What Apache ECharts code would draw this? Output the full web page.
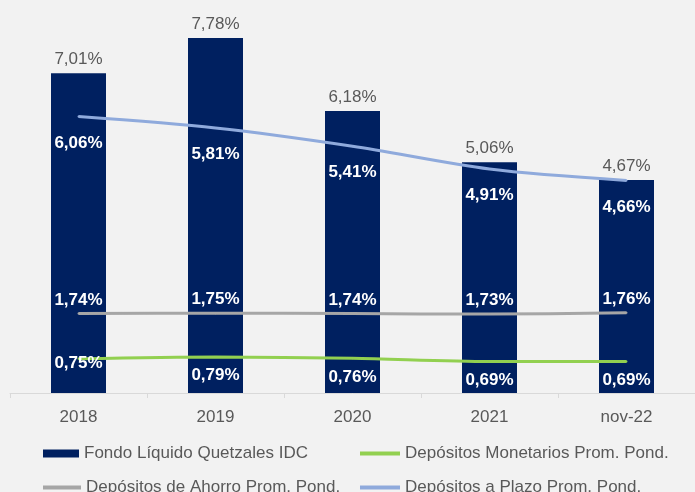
<!DOCTYPE html>
<html><head><meta charset="utf-8">
<script src="https://cdn.jsdelivr.net/npm/echarts@6/dist/echarts.min.js"></script>
<style>html,body{margin:0;padding:0;background:#f2f2f2;}#c{width:695px;height:492px;}</style>
</head><body><div id="c"></div>
<script>
const categories = ['2018', '2019', '2020', '2021', 'nov-22'];
const fondo = [7.01, 7.78, 6.18, 5.06, 4.67];
const monetarios = [0.75, 0.79, 0.76, 0.69, 0.69];
const ahorro = [1.74, 1.75, 1.74, 1.73, 1.76];
const plazo = [6.06, 5.81, 5.41, 4.91, 4.66];
const names = ['Fondo Líquido Quetzales IDC', 'Depósitos Monetarios Prom. Pond.', 'Depósitos de Ahorro Prom. Pond.', 'Depósitos a Plazo Prom. Pond.'];
const FONT = 'Liberation Sans, Arial, sans-serif';
const fmt = p => p.value.toFixed(2).replace('.', ',') + '%';
const whiteLabel = (pos, dist) => ({show: true, position: pos, distance: dist, color: '#ffffff', fontWeight: 'bold', fontSize: 17, fontFamily: FONT, formatter: fmt});
const chart = echarts.init(document.getElementById('c'));
const legendBase = {textStyle: {color: '#595959', fontSize: 17, fontFamily: FONT}, itemGap: 0, selectedMode: false, padding: 0};
chart.setOption({
  backgroundColor: '#f2f2f2',
  animation: false,
  grid: {left: 10, top: 28, width: 692, height: 365, containLabel: false},
  xAxis: {type: 'category', data: categories,
    axisLine: {lineStyle: {color: '#d9d9d9', width: 1}},
    axisTick: {show: true, length: 5, lineStyle: {color: '#d9d9d9'}},
    axisLabel: {color: '#595959', fontSize: 17, fontFamily: FONT, margin: 16}},
  yAxis: {type: 'value', min: 0, max: 8, show: false, splitLine: {show: false}},
  legend: [
    Object.assign({}, legendBase, {left: 43, top: 445, data: [{name: names[0], icon: 'rect'}], itemWidth: 36, itemHeight: 8}),
    Object.assign({}, legendBase, {left: 360, top: 445, data: [{name: names[1], icon: 'rect'}], itemWidth: 40, itemHeight: 4}),
    Object.assign({}, legendBase, {left: 43, top: 479, data: [{name: names[2], icon: 'rect'}], itemWidth: 38, itemHeight: 4}),
    Object.assign({}, legendBase, {left: 360, top: 479, data: [{name: names[3], icon: 'rect'}], itemWidth: 40, itemHeight: 4})
  ],
  series: [
    {name: names[0], type: 'bar', data: fondo, barWidth: 55, itemStyle: {color: '#002060'},
      label: {show: true, position: 'top', distance: 5, color: '#595959', fontSize: 17, fontFamily: FONT, formatter: fmt}},
    {name: names[1], type: 'line', data: monetarios.map((v, i) => i === 0 ? {value: v, label: {position: 'inside', offset: [0, 5]}} : v),
      smooth: 0.3, symbol: 'circle', symbolSize: 2, lineStyle: {color: '#92d050', width: 3}, itemStyle: {color: '#92d050'},
      label: whiteLabel('bottom', 9), z: 5},
    {name: names[2], type: 'line', data: ahorro, smooth: 0.3, symbol: 'circle', symbolSize: 2,
      lineStyle: {color: '#a6a6a6', width: 3}, itemStyle: {color: '#a6a6a6'}, label: whiteLabel('top', 4), z: 5},
    {name: names[3], type: 'line', data: plazo, smooth: 0.3, symbol: 'circle', symbolSize: 2,
      lineStyle: {color: '#8faadc', width: 3}, itemStyle: {color: '#8faadc'}, label: whiteLabel('bottom', 17), z: 5}
  ]
});
</script></body></html>
